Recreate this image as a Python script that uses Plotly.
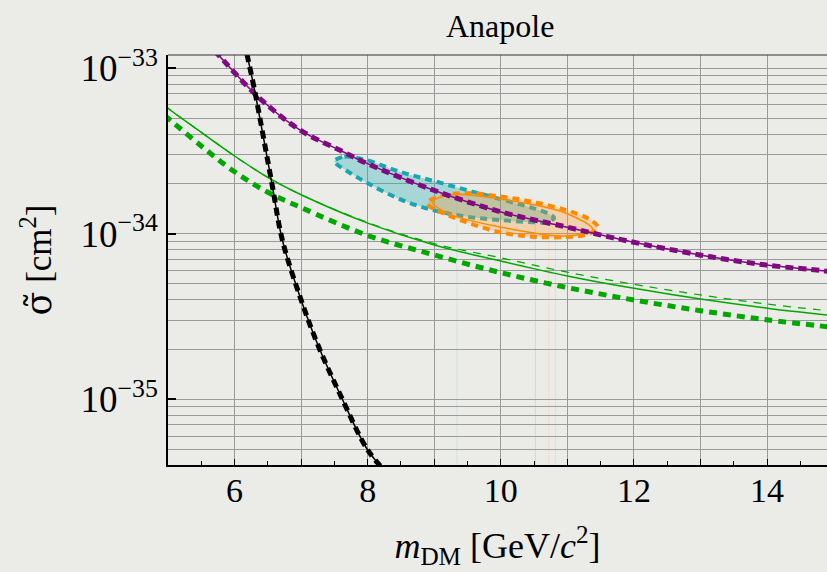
import plotly.graph_objects as go

# ---------------- data ----------------
purple_x = [5.70, 5.76, 6.33, 6.98, 7.63, 7.98, 8.98, 9.99, 10.98, 11.64, 11.98, 12.99, 13.99, 14.84, 15.0]
purple_y = [1.27e-33, 1.20e-33, 6.85e-34, 4.24e-34, 3.13e-34, 2.67e-34, 1.84e-34, 1.36e-34, 1.10e-34,
            9.55e-35, 8.91e-35, 7.45e-35, 6.47e-35, 5.98e-35, 5.85e-35]

black_x = [6.15, 6.19, 6.31, 6.56, 6.72, 7.00, 7.26, 7.60, 8.00, 8.30]
black_y = [1.45e-33, 1.20e-33, 7.06e-34, 2.02e-34, 9.1e-35, 3.98e-35, 2.09e-35, 1.04e-35, 4.94e-36, 3.55e-36]

green_solid_x = [4.95, 5.0, 5.38, 6.0, 6.5, 7.0, 8.0, 9.0, 10.0, 11.0, 12.0, 13.0, 14.0, 15.0]
green_solid_y = [5.95e-34, 5.73e-34, 4.44e-34, 2.95e-34, 2.19e-34, 1.72e-34, 1.16e-34, 8.55e-35, 6.84e-35,
                 5.56e-35, 4.68e-35, 4.03e-35, 3.55e-35, 3.20e-35]

green_dash_x = [4.95, 5.0, 5.38, 6.0, 6.5, 7.0, 8.0, 9.0, 10.0, 11.0, 12.0, 13.0, 14.0, 15.0]
green_dash_y = [5.95e-34, 5.73e-34, 4.44e-34, 2.95e-34, 2.19e-34, 1.72e-34, 1.17e-34, 8.71e-35, 7.16e-35,
                5.86e-35, 4.95e-35, 4.27e-35, 3.76e-35, 3.40e-35]

green_dot_x = [4.95, 5.0, 5.5, 6.0, 6.5, 7.0, 8.0, 9.0, 10.0, 11.0, 12.0, 13.0, 14.0, 15.0]
green_dot_y = [5.19e-34, 4.99e-34, 3.39e-34, 2.37e-34, 1.78e-34, 1.44e-34, 9.77e-35, 7.45e-35, 5.82e-35,
               4.73e-35, 3.98e-35, 3.43e-35, 3.02e-35, 2.72e-35]

cyan_x = [7.50, 7.65, 7.98, 8.48, 8.98, 9.48, 9.99, 10.48, 10.75, 10.80,
          10.70, 10.48, 9.99, 9.48, 8.98, 8.48, 7.98, 7.65, 7.52, 7.50]
cyan_y = [2.75e-34, 2.92e-34, 2.79e-34, 2.37e-34, 2.09e-34, 1.84e-34, 1.62e-34, 1.43e-34, 1.30e-34, 1.245e-34,
          1.175e-34, 1.175e-34, 1.21e-34, 1.27e-34, 1.39e-34, 1.62e-34, 2.04e-34, 2.45e-34, 2.66e-34, 2.75e-34]

orange_x = [8.90, 9.10, 9.48, 9.99, 10.48, 10.98, 11.30, 11.45, 11.45,
            11.30, 10.98, 10.48, 9.99, 9.48, 9.08, 8.92, 8.90]
orange_y = [1.55e-34, 1.70e-34, 1.76e-34, 1.68e-34, 1.56e-34, 1.39e-34, 1.245e-34, 1.12e-34, 1.07e-34,
            9.9e-35, 9.55e-35, 9.6e-35, 1.02e-34, 1.175e-34, 1.36e-34, 1.48e-34, 1.55e-34]

orange_in_x = [8.97, 9.23, 9.99, 10.98, 11.38, 10.98, 9.99, 9.23, 8.97]
orange_in_y = [1.55e-34, 1.72e-34, 1.62e-34, 1.33e-34, 1.06e-34, 9.7e-35, 1.10e-34, 1.32e-34, 1.55e-34]

faint_x = [9.34, 10.52, 10.72, 10.82]
faint_top = [1.6e-34, 1.18e-34, 1.0e-34, 1.0e-34]
faint_col = ["rgba(60,180,190,0.15)", "rgba(60,180,190,0.2)", "rgba(255,150,60,0.18)", "rgba(255,150,60,0.18)"]

x_major = list(range(5, 16))
x_minor = [v + 0.5 for v in range(5, 15)]
y_grid = [m * 10.0 ** e for e in (-36, -35, -34, -33) for m in range(1, 10)]
y_decades = [1e-35, 1e-34, 1e-33]
y_decade_text = ["10<sup>\u221235</sup>", "10<sup>\u221234</sup>", "10<sup>\u221233</sup>"]

# ---------------- styles ----------------
FONT = "Liberation Serif, Times New Roman, serif"
BG = "#ebebe8"
GRID = "#9a9a9a"
PURPLE = "#800a80"
GREEN = "#00a800"
CYAN = "#1aa6b0"
ORANGE = "#ff8a00"

fig = go.Figure()

for fx, ft, fc in zip(faint_x, faint_top, faint_col):
    fig.add_trace(go.Scatter(x=[fx, fx], y=[1e-36, ft], mode="lines",
                             line=dict(color=fc, width=1), hoverinfo="skip"))

fig.add_trace(go.Scatter(x=cyan_x, y=cyan_y, mode="lines", fill="toself",
                         fillcolor="rgba(40,175,180,0.35)", line=dict(color=CYAN, width=4, dash="7px,5px", shape="spline")))
fig.add_trace(go.Scatter(x=orange_x, y=orange_y, mode="lines", fill="toself",
                         fillcolor="rgba(255,150,40,0.30)", line=dict(color=ORANGE, width=4, dash="7px,5px", shape="spline")))
fig.add_trace(go.Scatter(x=orange_in_x, y=orange_in_y, mode="lines",
                         line=dict(color=ORANGE, width=1.5, shape="spline")))

fig.add_trace(go.Scatter(x=green_dash_x, y=green_dash_y, mode="lines",
                         line=dict(color=GREEN, width=1.2, dash="8px,7px", shape="spline")))
fig.add_trace(go.Scatter(x=green_solid_x, y=green_solid_y, mode="lines",
                         line=dict(color=GREEN, width=1.5, shape="spline")))
fig.add_trace(go.Scatter(x=green_dot_x, y=green_dot_y, mode="lines",
                         line=dict(color=GREEN, width=5, dash="8px,6px", shape="spline")))

fig.add_trace(go.Scatter(x=purple_x, y=purple_y, mode="lines",
                         line=dict(color=PURPLE, width=1.5, shape="spline")))
fig.add_trace(go.Scatter(x=purple_x, y=purple_y, mode="lines",
                         line=dict(color=PURPLE, width=5, dash="8px,5px", shape="spline")))

fig.add_trace(go.Scatter(x=black_x, y=black_y, mode="lines",
                         line=dict(color="black", width=1.5, shape="spline")))
fig.add_trace(go.Scatter(x=black_x, y=black_y, mode="lines",
                         line=dict(color="black", width=5, dash="8px,5px", shape="spline")))

# invisible trace to activate the overlay axis carrying the decade ticks
fig.add_trace(go.Scatter(x=[10], y=[1e-34], yaxis="y2", mode="markers",
                         marker=dict(opacity=0), hoverinfo="skip"))

yr = [-35.397, -32.92]

fig.update_layout(
    width=827, height=572,
    margin=dict(l=168, r=0, t=55, b=107, autoexpand=False),
    paper_bgcolor=BG, plot_bgcolor=BG,
    showlegend=False,
    font=dict(family=FONT, size=32, color="black"),
    title=dict(text="Anapole", x=0.504, xref="paper", xanchor="center",
               y=1 - 26 / 572, yref="container", yanchor="middle",
               font=dict(family=FONT, size=32, color="black")),
    xaxis=dict(range=[5, 14.9], tickmode="array", tickvals=x_major,
               ticktext=["" if v % 2 else str(v) for v in x_major],
               ticks="inside", ticklen=6, tickcolor="black", tickwidth=1,
               showgrid=True, gridcolor=GRID, gridwidth=1,
               showline=True, linecolor="black", linewidth=1.5, zeroline=False,
               minor=dict(tickmode="array", tickvals=x_minor, ticks="inside", ticklen=4,
                          tickcolor="black", showgrid=False),
               tickfont=dict(family=FONT, size=34), ticklabelstandoff=-6,
               title=dict(text="<i>m</i><sub>DM</sub> [GeV/<i>c</i><sup>2</sup>]",
                          font=dict(family=FONT, size=36), standoff=25)),
    yaxis=dict(type="log", range=yr, tickmode="array", tickvals=y_grid,
               ticktext=["" for _ in y_grid], ticks="",
               showgrid=True, gridcolor=GRID, gridwidth=1,
               showline=True, linecolor="black", linewidth=1.5, zeroline=False),
    yaxis2=dict(type="log", range=yr, overlaying="y", side="left", anchor="x",
                tickmode="array", tickvals=y_decades, ticktext=y_decade_text,
                ticks="inside", ticklen=8, tickcolor="black", tickwidth=1.5,
                showgrid=False, showline=False, zeroline=False,
                tickfont=dict(family=FONT, size=37), ticklabelstandoff=9,
                title=dict(text="<span style=\"font-family:'DejaVu Serif'\">\u03c3\u0303</span> [cm<sup>2</sup>]",
                           font=dict(family=FONT, size=35), standoff=18)),
)

fig.add_shape(type="line", xref="paper", yref="paper", x0=0, x1=1, y0=1, y1=1,
              line=dict(color="#333333", width=1.2))

fig.write_html("out.html")
